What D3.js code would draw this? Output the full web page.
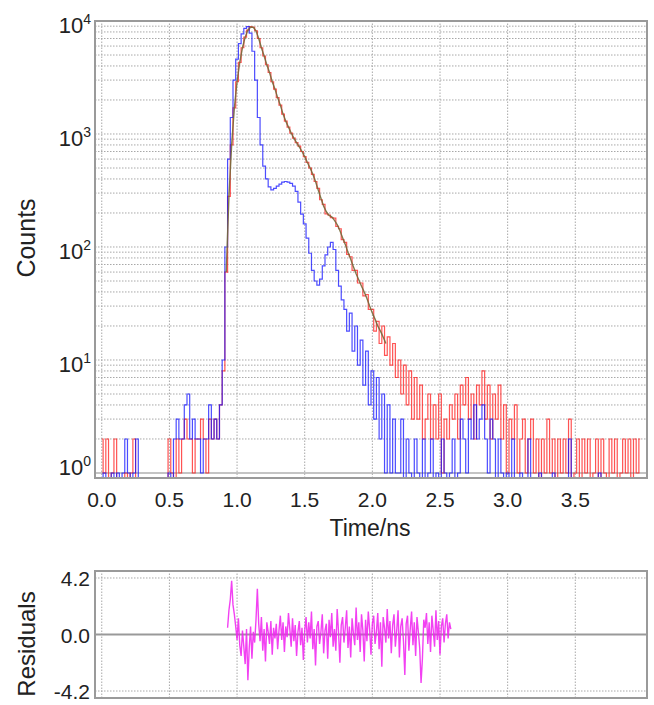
<!DOCTYPE html>
<html>
<head>
<meta charset="utf-8">
<script src="https://cdn.jsdelivr.net/npm/d3@7"></script>
<style>
  body { margin: 0; background: #fff; }
  text { font-family: "Liberation Sans", Arial, sans-serif; fill: #222; }
</style>
</head>
<body>
<div id="vis"></div>
<script>
// channel width of the TCSPC histogram (ns); counts start at t = 0
const channelNs = 0.02;

// instrument response / reference decay (blue), counts per channel
const blueCounts = [
  0, 1, 0, 0, 1, 0, 1, 0, 1, 2,
  1, 0, 1, 2, 0, 0, 0, 0, 0, 0,
  0, 0, 0, 0, 0, 1, 0, 2, 3, 2,
  2, 4, 5, 2, 3, 2, 2, 1, 2, 2,
  4, 2, 3, 2, 4, 10, 100, 600, 1400, 3000,
  4600, 6300, 7700, 8600, 8900, 7800, 5400, 3000, 1400, 800,
  520, 400, 340, 320, 330, 345, 360, 375, 380, 375,
  365, 345, 310, 250, 195, 160, 120, 88, 62, 50,
  46, 52, 68, 85, 100, 110, 95, 62, 45, 34,
  28, 18, 26, 12, 20, 9, 15, 6, 12, 4,
  8, 3, 7, 2, 5, 1, 4, 1, 3, 1,
  1, 3, 0, 2, 1, 0, 2, 1, 0, 2,
  0, 1, 2, 0, 1, 0, 2, 1, 0, 1,
  2, 0, 1, 3, 2, 1, 3, 2, 4, 2,
  3, 4, 2, 1, 3, 2, 0, 2, 1, 0,
  1, 0, 2, 0, 0, 1, 0, 0, 2, 0,
  0, 0, 1, 0, 0, 0, 0, 1, 0, 0,
  0, 0, 0, 2, 0, 0, 0, 0, 0, 0,
  0, 0, 0, 0, 1, 0, 0, 0, 0, 0,
  0, 0, 0, 0, 0, 0, 0, 0, 0, 0
];

// sample decay (red), counts per channel
const redCounts = [
  2, 1, 2, 0, 1, 2, 0, 0, 0, 1,
  0, 1, 2, 0, 0, 0, 0, 0, 0, 0,
  0, 0, 0, 0, 0, 2, 1, 0, 2, 1,
  2, 3, 2, 2, 1, 2, 2, 3, 2, 1,
  3, 2, 3, 2, 4, 8, 60, 280, 800, 1700,
  2900, 4300, 5800, 7200, 8300, 8900, 8800, 8200, 7000, 5800,
  4900, 4100, 3500, 2900, 2500, 2100, 1800, 1500, 1300, 1150,
  1020, 920, 840, 780, 700, 630, 560, 500, 440, 380,
  330, 262, 238, 196, 192, 182, 180, 152, 145, 116,
  110, 86, 82, 62, 62, 48, 48, 37, 38, 28,
  28, 18, 22, 14, 20, 11, 16, 9, 14, 7,
  10, 5, 9, 4, 8, 3, 7, 3, 6, 2,
  3, 5, 2, 4, 2, 5, 1, 3, 2, 4,
  3, 5, 2, 6, 4, 7, 3, 5, 2, 6,
  4, 8, 3, 6, 2, 5, 3, 6, 2, 4,
  1, 3, 2, 4, 1, 2, 3, 1, 2, 3,
  1, 2, 0, 2, 1, 3, 1, 2, 0, 2,
  1, 2, 1, 3, 0, 1, 2, 0, 2, 1,
  2, 0, 1, 2, 0, 2, 1, 0, 2, 1,
  2, 0, 1, 2, 1, 2, 0, 2, 1, 2
];

// fitted decay (drawn part), starting at fitStartNs
const fitStartNs = 0.92;
const fitCounts = [
  60, 280, 800, 1700, 2900, 4300, 5800, 7200, 8300, 8800,
  8800, 8200, 7000, 5800, 4900, 4100, 3500, 2900, 2500, 2100,
  1800, 1500, 1300, 1150, 1020, 920, 840, 770, 700, 630,
  560, 500, 440, 380, 320, 270, 230, 205, 190, 185,
  172, 158, 140, 121, 105, 90, 78, 67, 58, 51,
  45, 40, 35, 30, 26, 23, 20, 18, 16, 14
];

// weighted residuals of the fit, 0.01 ns apart from residStartNs
const residStartNs = 0.93;
const residStepNs = 0.01;
const residuals = [
  0.5, 1.8, 2.6, 4.0, 2.2, 1.5, 0.6, -0.4, 1.2, -0.8,
  -1.6, 0.3, -0.9, -2.2, 0.4, -3.4, -1.0, 0.6, -1.8, 0.2,
  -0.6, 1.1, 3.4, 0.8, -0.5, 1.3, -1.2, 0.4, -2.0, 0.9,
  0.2, -0.7, 1.0, -1.5, 0.5, -0.3, 0.8, -1.1, 0.3, 1.4,
  -0.4, 0.9, -1.3, 0.6, -0.2, 1.6, 0.4, -0.9, 1.2, -0.5,
  0.7, -1.6, 0.2, 1.0, -0.8, 0.5, -1.9, 0.3, 1.3, -0.6,
  0.9, -0.3, 1.7, -1.1, 0.4, -2.3, 0.6, 1.0, -0.7, 0.2,
  1.5, -1.4, 0.3, 0.8, -1.8, 1.1, -0.2, 1.6, -0.9, 0.4,
  -1.2, 1.9, 0.2, -2.1, 0.7, 1.3, -0.6, 0.5, 1.8, -1.0,
  0.6, -1.7, 1.2, 0.1, -0.8, 2.0, -0.4, 0.9, -1.3, 1.5,
  0.3, -2.0, 1.1, -0.5, 1.7, 0.4, -1.5, 0.8, 1.4, -0.7,
  0.2, 1.6, -1.1, 0.9, -2.4, 1.3, 0.5, -0.6, 1.9, -0.3,
  1.0, -1.4, 0.7, 1.5, -0.9, 0.3, 1.8, -1.7, 0.6, 1.2,
  -0.5, -3.0, 0.8, 1.4, -1.2, 0.4, 1.7, -0.8, 0.9, -1.6,
  1.3, 0.2, -1.0, -3.6, -1.8, 1.1, 0.5, 1.6, -0.7, 0.9,
  -1.3, 1.4, 0.3, -0.9, 1.8, -0.4, 1.0, -1.5, 0.6, 1.2,
  -0.6, 0.8, 1.5, -0.3, 0.9, 0.4
];

const timeTicks = [0, 0.5, 1.0, 1.5, 2.0, 2.5, 3.0, 3.5];
const countDecades = [0, 1, 2, 3, 4];
const residTicks = [4.2, 0.0, -4.2];

const width = 654;
const height = 705;

const svg = d3.select("#vis").append("svg")
    .attr("width", width)
    .attr("height", height);

const x = d3.scaleLinear()
    .domain([-0.05, 4.03])
    .range([95, 647]);

const yMin = 0.903;
const y = d3.scaleLog()
    .domain([yMin, 1e4])
    .range([478, 21]);

const yRes = d3.scaleLinear()
    .domain([-4.72, 4.72])
    .range([698, 571]);

const gridColor = "#a8a8a8";

// ---- main decay panel ----
const main = svg.append("g");

// minor + decade gridlines (dotted)
const minorVals = [];
countDecades.slice(0, -1).forEach(e => {
    for (let k = 2; k <= 9; k++) minorVals.push(k * Math.pow(10, e));
});
minorVals.push(...countDecades.slice(1, -1).map(e => Math.pow(10, e)));

main.selectAll(".hgrid")
    .data(minorVals)
    .join("line")
    .attr("class", "hgrid")
    .attr("x1", x.range()[0])
    .attr("x2", x.range()[1])
    .attr("y1", d => y(d))
    .attr("y2", d => y(d))
    .attr("stroke", gridColor)
    .attr("stroke-width", 1)
    .attr("stroke-dasharray", "1.5,1.5");

main.selectAll(".vgrid")
    .data(timeTicks)
    .join("line")
    .attr("class", "vgrid")
    .attr("x1", d => x(d))
    .attr("x2", d => x(d))
    .attr("y1", y.range()[0])
    .attr("y2", y.range()[1])
    .attr("stroke", gridColor)
    .attr("stroke-width", 1)
    .attr("stroke-dasharray", "1.5,1.5");

main.append("line")
    .attr("x1", x.range()[0]).attr("x2", x.range()[1])
    .attr("y1", y(1)).attr("y2", y(1))
    .attr("stroke", "#b0b0b0")
    .attr("stroke-width", 1.5);

main.append("defs").append("clipPath")
    .attr("id", "clipMain")
    .append("rect")
    .attr("x", x.range()[0]).attr("y", y.range()[1])
    .attr("width", x.range()[1] - x.range()[0])
    .attr("height", y.range()[0] - y.range()[1]);

// histogram channels drawn as steps -> vertical strokes in the noisy parts
const countLine = d3.line()
    .curve(d3.curveStep)
    .x((d, i) => x(i * channelNs))
    .y(d => y(Math.max(d, yMin)));

const curves = main.append("g").attr("clip-path", "url(#clipMain)");

curves.append("path")
    .datum(redCounts)
    .attr("fill", "none")
    .attr("stroke", "#ff1a1a")
    .attr("stroke-opacity", 0.75)
    .attr("stroke-width", 1.2)
    .attr("d", countLine);

curves.append("path")
    .datum(blueCounts)
    .attr("fill", "none")
    .attr("stroke", "#1010ff")
    .attr("stroke-opacity", 0.75)
    .attr("stroke-width", 1.2)
    .attr("d", countLine);

curves.append("path")
    .datum(fitCounts)
    .attr("fill", "none")
    .attr("stroke", "#76693a")
    .attr("stroke-opacity", 0.9)
    .attr("stroke-width", 1.4)
    .attr("d", d3.line()
        .x((d, i) => x(fitStartNs + i * channelNs))
        .y(d => y(d)));

main.append("rect")
    .attr("x", x.range()[0]).attr("y", y.range()[1])
    .attr("width", x.range()[1] - x.range()[0])
    .attr("height", y.range()[0] - y.range()[1])
    .attr("fill", "none")
    .attr("stroke", "#9a9a9a")
    .attr("stroke-width", 2);

// y tick labels 10^n
const yLabels = main.selectAll(".ylab")
    .data(countDecades)
    .join("text")
    .attr("class", "ylab")
    .attr("text-anchor", "end")
    .attr("x", 91)
    .attr("y", d => y(Math.pow(10, d)) + (d === 0 ? 2 : 12))
    .style("font-size", "22px");
yLabels.append("tspan").text("10");
yLabels.append("tspan")
    .attr("dy", -9)
    .style("font-size", "14px")
    .text(d => d);

// x tick labels
main.selectAll(".xlab")
    .data(timeTicks)
    .join("text")
    .attr("class", "xlab")
    .attr("text-anchor", "middle")
    .attr("x", d => x(d))
    .attr("y", 507)
    .style("font-size", "21px")
    .text(d => d.toFixed(1));

main.append("text")
    .attr("x", 370)
    .attr("y", 536)
    .attr("text-anchor", "middle")
    .style("font-size", "23px")
    .text("Time/ns");

main.append("text")
    .attr("transform", "translate(35,238) rotate(-90)")
    .attr("text-anchor", "middle")
    .style("font-size", "25px")
    .text("Counts");

// ---- residuals panel ----
const res = svg.append("g");

res.selectAll(".rgrid")
    .data([4.2, -4.2])
    .join("line")
    .attr("class", "rgrid")
    .attr("x1", x.range()[0]).attr("x2", x.range()[1])
    .attr("y1", d => yRes(d)).attr("y2", d => yRes(d))
    .attr("stroke", gridColor)
    .attr("stroke-dasharray", "1.5,1.5");

res.selectAll(".rvgrid")
    .data(timeTicks)
    .join("line")
    .attr("class", "rvgrid")
    .attr("x1", d => x(d)).attr("x2", d => x(d))
    .attr("y1", yRes.range()[0]).attr("y2", yRes.range()[1])
    .attr("stroke", gridColor)
    .attr("stroke-dasharray", "1.5,1.5");

res.append("line")
    .attr("x1", x.range()[0]).attr("x2", x.range()[1])
    .attr("y1", yRes(0)).attr("y2", yRes(0))
    .attr("stroke", "#999")
    .attr("stroke-width", 2);

res.append("path")
    .datum(residuals)
    .attr("fill", "none")
    .attr("stroke", "#f020f0")
    .attr("stroke-opacity", 0.85)
    .attr("stroke-width", 1.4)
    .attr("d", d3.line()
        .x((d, i) => x(residStartNs + i * residStepNs))
        .y(d => yRes(d)));

res.append("rect")
    .attr("x", x.range()[0]).attr("y", yRes.range()[1])
    .attr("width", x.range()[1] - x.range()[0])
    .attr("height", yRes.range()[0] - yRes.range()[1])
    .attr("fill", "none")
    .attr("stroke", "#9a9a9a")
    .attr("stroke-width", 2);

res.selectAll(".rlab")
    .data(residTicks)
    .join("text")
    .attr("class", "rlab")
    .attr("text-anchor", "end")
    .attr("x", 90)
    .attr("y", d => yRes(d) + 8)
    .style("font-size", "21px")
    .text(d => d.toFixed(1));

res.append("text")
    .attr("transform", "translate(35,644) rotate(-90)")
    .attr("text-anchor", "middle")
    .style("font-size", "24px")
    .text("Residuals");
</script>
</body>
</html>
